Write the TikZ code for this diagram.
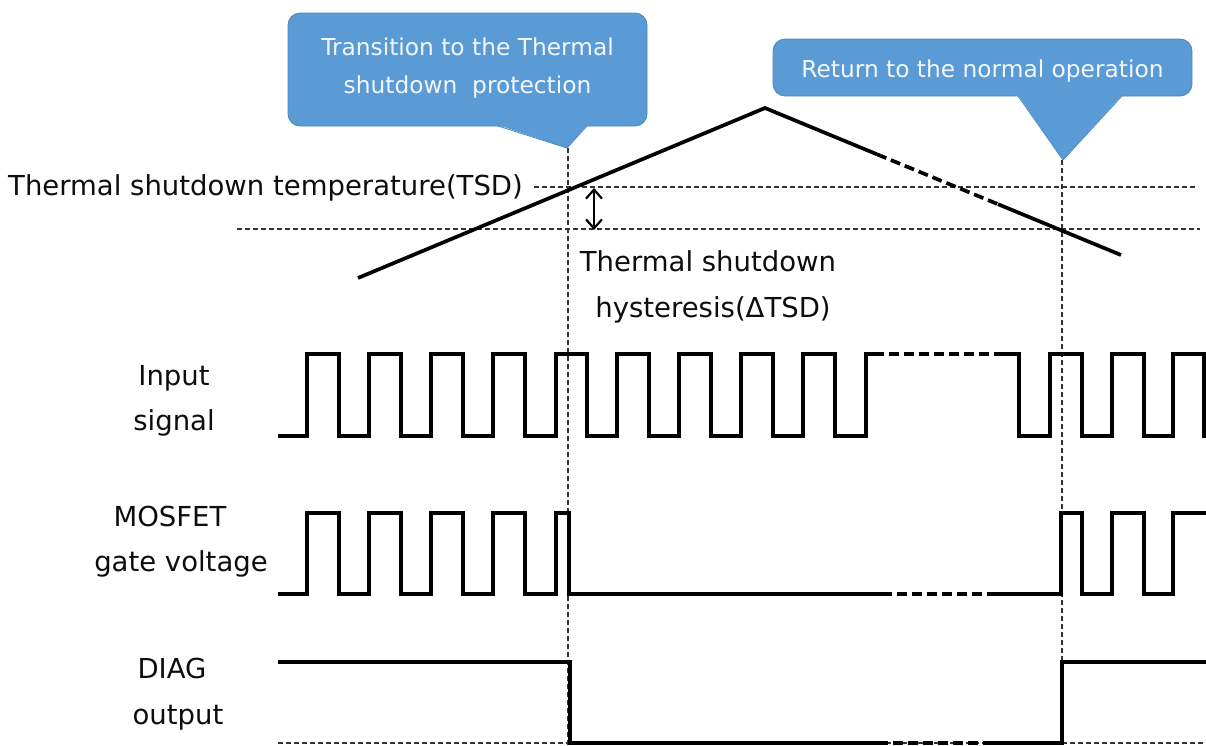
\documentclass[tikz,border=0pt]{standalone}
\usepackage{fontspec}
\setmainfont{DejaVu Sans}
\usetikzlibrary{arrows.meta}
\definecolor{cfill}{HTML}{5B9BD5}
\definecolor{cline}{HTML}{4A85C0}
\definecolor{ctext}{HTML}{F3F7FD}
\definecolor{guide}{HTML}{333333}
\begin{document}
\begin{tikzpicture}[x=1pt,y=-1pt,
 lab/.style={font=\fontsize{27.5}{32}\selectfont, text=black!95, inner sep=0pt, anchor=base},
 calltext/.style={font=\fontsize{23.3}{38}\selectfont, text=ctext, align=center, inner sep=0pt},
 callbox/.style={fill=cfill, draw=cline, line width=0.8pt, rounded corners=12pt, inner sep=0pt},
 guideline/.style={draw=guide, line width=1.3pt, dash pattern=on 5pt off 3pt},
 wave/.style={line width=3.7pt, line join=miter, line cap=butt},
 wavedash/.style={wave, dash pattern=on 10pt off 5pt},
 barb/.style={Straight Barb[length=9pt,width=16pt,line width=2pt]},
 ]
\useasboundingbox (0,0) rectangle (1206,745);

% guide coordinates
\coordinate (tsdL) at (534,187);
\coordinate (tsdR) at (1198,187);
\coordinate (hysL) at (237,229);
\coordinate (hysR) at (1200,229);
\coordinate (v1t) at (568,148);
\coordinate (v1b) at (568,745);
\coordinate (v2t) at (1062,160);
\coordinate (v2b) at (1062,745);
\coordinate (zL) at (278,743);
\coordinate (zR) at (1206,743);

\draw[guideline] (tsdL) -- (tsdR);
\draw[guideline] (hysL) -- (hysR);
\draw[guideline] (v1t) -- (v1b);
\draw[guideline] (v2t) -- (v2b);
\draw[guideline] (zL) -- (zR);

% temperature
\draw[wave] (358,278) -- (765,108) -- (877,154.3);
\draw[wavedash] (877,154.3) -- (998,204.2);
\draw[wave] (998,204.2) -- (1121,255);

% hysteresis arrow
\coordinate (h1) at (594,188);
\coordinate (h2) at (594,230);
\draw[line width=2.2pt, {Straight Barb[length=9pt,width=16pt]}-{Straight Barb[length=9pt,width=16pt]}] (h1) -- (h2);

% input signal
\draw[wave] (278,436)
  -- (307,436) -- (307,354) -- (339,354) -- (339,436)
  -- (369,436) -- (369,354) -- (401,354) -- (401,436)
  -- (431,436) -- (431,354) -- (463,354) -- (463,436)
  -- (493,436) -- (493,354) -- (525,354) -- (525,436)
  -- (556,436) -- (556,354) -- (587,354) -- (587,436)
  -- (617,436) -- (617,354) -- (649,354) -- (649,436)
  -- (679,436) -- (679,354) -- (711,354) -- (711,436)
  -- (741,436) -- (741,354) -- (773,354) -- (773,436)
  -- (803,436) -- (803,354) -- (835,354) -- (835,436)
  -- (866,436) -- (866,354) -- (874,354);
\draw[wavedash] (874,354) -- (995,354);
\draw[wave] (995,354) -- (1019,354) -- (1019,436)
  -- (1050,436) -- (1050,354) -- (1082,354) -- (1082,436)
  -- (1112,436) -- (1112,354) -- (1144,354) -- (1144,436)
  -- (1173,436) -- (1173,354) -- (1204,354) -- (1204,436) -- (1206,436);

% MOSFET gate voltage
\draw[wave] (278,594)
  -- (307,594) -- (307,513) -- (339,513) -- (339,594)
  -- (369,594) -- (369,513) -- (401,513) -- (401,594)
  -- (431,594) -- (431,513) -- (463,513) -- (463,594)
  -- (493,594) -- (493,513) -- (525,513) -- (525,594)
  -- (556,594) -- (556,513) -- (569,513) -- (569,594)
  -- (882,594);
\draw[wavedash] (882,594) -- (997,594);
\draw[wave] (997,594) -- (1061,594) -- (1061,513) -- (1082,513) -- (1082,594)
  -- (1112,594) -- (1112,513) -- (1144,513) -- (1144,594)
  -- (1173,594) -- (1173,513) -- (1206,513);

% DIAG output
\draw[wave] (278,662) -- (570,662) -- (570,743) -- (878,743);
\draw[wavedash] (878,743) -- (987,743);
\draw[wave] (987,743) -- (1062,743) -- (1062,662) -- (1206,662);

% labels
\node[lab, anchor=base west] (tsd) at (8,195) {Thermal shutdown temperature(TSD)};
\node[lab] (hy1) at (708,271) {Thermal shutdown};
\node[lab] (hy2) at (713,317) {hysteresis(ΔTSD)};
\node[lab] (in1) at (174,385) {Input};
\node[lab] (in2) at (174,430) {signal};
\node[lab] (mo1) at (170,526) {MOSFET};
\node[lab] (mo2) at (181,571) {gate voltage};
\node[lab] (di1) at (172,678) {DIAG};
\node[lab] (di2) at (178,724) {output};

% callout 1
\node[callbox, minimum width=359pt, minimum height=113pt] (c1) at (467.5,69.5) {};
\fill[cfill] (498,125) -- (587,125) -- (567,148) -- cycle;
\draw[cline, line width=0.8pt] (498,126) -- (567,148) -- (587,126);
\node[calltext] (t1) at (467.5,68.5) {Transition to the Thermal\\shutdown~~protection};

% callout 2
\node[callbox, minimum width=419pt, minimum height=57pt] (c2) at (982.5,67.5) {};
\fill[cfill] (1018,95) -- (1122,95) -- (1063,160) -- cycle;
\draw[cline, line width=0.8pt] (1018,96) -- (1063,160) -- (1122,96);
\node[calltext] (t2) at (982.5,71) {Return to the normal operation};
\end{tikzpicture}
\end{document}
